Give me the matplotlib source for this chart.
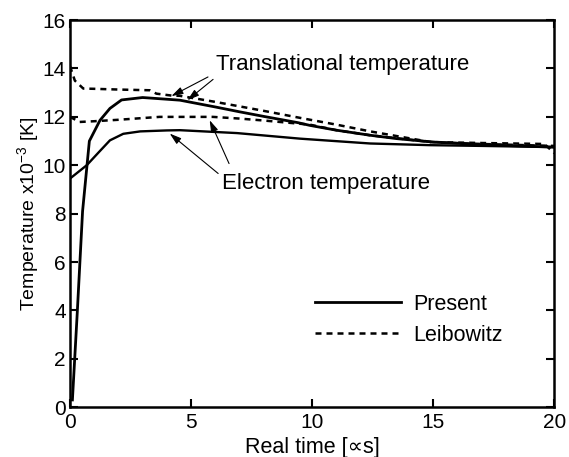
import numpy as np
import matplotlib.pyplot as plt
from matplotlib.patches import ArrowStyle

plt.rcParams['font.family'] = ['Liberation Sans', 'DejaVu Sans']
plt.rcParams['mathtext.fontset'] = 'custom'
plt.rcParams['mathtext.rm'] = 'Liberation Sans'

# present calculation, translational temperature (x10^3 K)
t_trans = [0.1, 0.3, 0.52, 0.8, 1.24, 1.65, 2.13, 3.0, 4.13, 4.54, 6.0, 7.0, 8.0,
           9.42, 9.9, 11.0, 12.4, 13.5, 15.0, 17.0, 20.0]
T_trans = [0.3, 3.9, 8.1, 11.0, 11.86, 12.35, 12.7, 12.8, 12.72, 12.69, 12.41, 12.21,
           12.02, 11.76, 11.65, 11.45, 11.24, 11.1, 10.96, 10.85, 10.75]

# present calculation, electron temperature
t_elec = [0.0, 0.69, 1.2, 1.65, 2.2, 2.9, 4.0, 4.54, 6.9, 9.5, 12.4, 14.9, 17.0, 20.0]
T_elec = [9.45, 10.0, 10.55, 11.03, 11.3, 11.4, 11.44, 11.45, 11.33, 11.1, 10.9,
          10.83, 10.8, 10.75]

# Leibowitz, translational temperature
t_leib_trans = [0.0, 0.2, 0.55, 1.0, 2.0, 3.3, 3.57, 4.2, 4.54, 6.0, 8.0, 9.6, 11.0,
                12.4, 14.9, 17.0, 19.6, 20.0]
T_leib_trans = [14.1, 13.5, 13.17, 13.16, 13.13, 13.1, 12.96, 12.88, 12.87, 12.62,
                12.25, 11.94, 11.68, 11.4, 10.96, 10.92, 10.88, 10.5]

# Leibowitz, electron temperature
t_leib_elec = [0.0, 0.4, 1.0, 2.0, 3.7, 4.54, 5.9, 7.0, 8.0, 9.9, 11.0, 12.4, 14.9,
               17.0, 20.0]
T_leib_elec = [12.0, 11.79, 11.82, 11.88, 12.0, 12.0, 12.0, 11.93, 11.85, 11.68,
               11.45, 11.24, 10.96, 10.88, 10.8]

fig = plt.figure(figsize=(5.69, 4.57), dpi=100)
ax = fig.add_axes([0.123, 0.109, 0.851, 0.847])

ax.plot(t_trans, T_trans, color='black', lw=2.0, label='Present')
ax.plot(t_elec, T_elec, color='black', lw=1.7)
ax.plot(t_leib_trans, T_leib_trans, color='black', lw=1.8, dashes=(2.4, 2.0),
        label='Leibowitz')
ax.plot(t_leib_elec, T_leib_elec, color='black', lw=1.8, dashes=(2.4, 2.0))

ax.set_xlim(0, 20)
ax.set_ylim(0, 16)
ax.set_xticks(np.arange(0, 21, 5))
ax.set_yticks(np.arange(0, 17, 2))
ax.tick_params(direction='in', length=6, width=1.5, labelsize=15, pad=3,
               top=True, right=True)
ax.tick_params(axis='x', pad=4)
for s in ax.spines.values():
    s.set_linewidth(1.8)

ax.set_xlabel('Real time [\u221ds]', fontsize=15.5, labelpad=4)
ax.set_ylabel('Temperature x10$^{-3}$ [K]', fontsize=14, labelpad=0)

arrow = ArrowStyle('-|>', head_length=0.7, head_width=0.22)
akw = dict(arrowstyle=arrow, color='black', lw=0.8, shrinkA=0, shrinkB=0)

ax.text(6.05, 14.15, 'Translational temperature', fontsize=16, va='center')
ax.annotate('', xy=(4.19, 12.86), xytext=(5.7, 13.65), arrowprops=akw)
ax.annotate('', xy=(4.85, 12.69), xytext=(5.91, 13.55), arrowprops=akw)

ax.text(6.28, 9.26, 'Electron temperature', fontsize=16, va='center')
ax.annotate('', xy=(4.12, 11.31), xytext=(6.12, 9.66), arrowprops=akw)
ax.annotate('', xy=(5.77, 11.86), xytext=(6.57, 10.07), arrowprops=akw)

ax.legend(loc='center left', bbox_to_anchor=(0.506, 0.226), frameon=False,
          fontsize=15.5, handlelength=4.0, handletextpad=0.55, labelspacing=0.45,
          borderpad=0, borderaxespad=0)

fig.savefig('out.png', dpi=100)
